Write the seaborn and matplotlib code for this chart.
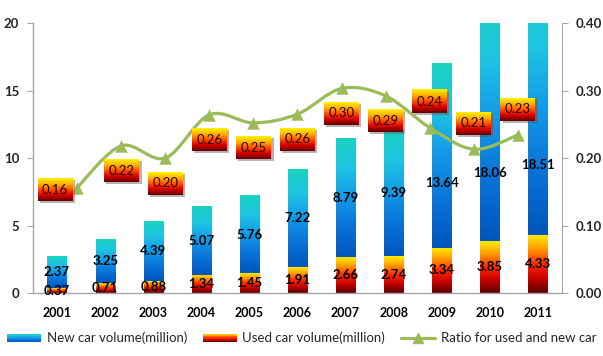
import numpy as np
import pandas as pd
import matplotlib
matplotlib.use("Agg")
import matplotlib.pyplot as plt
import seaborn as sns
from matplotlib.colors import LinearSegmentedColormap
from matplotlib.path import Path
from matplotlib.patches import PathPatch, Rectangle
from matplotlib.lines import Line2D
from matplotlib.offsetbox import OffsetImage, AnnotationBbox
from matplotlib.legend_handler import HandlerBase

# ---------------- data ----------------
years = ['2001', '2002', '2003', '2004', '2005', '2006', '2007', '2008', '2009', '2010', '2011']
new_volume = [2.37, 3.25, 4.39, 5.07, 5.76, 7.22, 8.79, 9.39, 13.64, 18.06, 18.51]
used_volume = [0.37, 0.71, 0.88, 1.34, 1.45, 1.91, 2.66, 2.74, 3.34, 3.85, 4.33]
ratio = [0.156, 0.218, 0.200, 0.264, 0.252, 0.265, 0.303, 0.292, 0.245, 0.213, 0.234]
ratio_labels = ['0.16', '0.22', '0.20', '0.26', '0.25', '0.26', '0.30', '0.29', '0.24', '0.21', '0.23']
left_ticks = [0, 5, 10, 15, 20]
left_tick_labels = ['0', '5', '10', '15', '20']
right_ticks = [0.0, 0.1, 0.2, 0.3, 0.4]
right_tick_labels = ['0.00', '0.10', '0.20', '0.30', '0.40']
legend_labels = ['New car volume(million)', 'Used car volume(million)', 'Ratio for used and new car']

# ---------------- layout / style ----------------
label_pos = ['left', 'below', 'below', 'below', 'below', 'below', 'below', 'below', 'above', 'above', 'above']
pos_offset_px = {'left': (-22, -2), 'below': (0, -25), 'above': (0, 26)}
new_label_nudge_px = [0, 0, 0, 0, 0, 0, 0, 0, -27, -41, -36]

GREEN = '#9bbb59'
GRAY = '#a6a6a6'
new_cmap = LinearSegmentedColormap.from_list(
    'newc', ['#0055bb', '#0a72d6', '#1498e6', '#1ec4e2', '#1ad2c0'])
used_cmap = LinearSegmentedColormap.from_list(
    'usedc', ['#5a0000', '#c80000', '#ff2a00', '#ff9a00', '#ffee00'])
box_cmap = LinearSegmentedColormap.from_list(
    'boxc', ['#6a0000', '#d80000', '#ff5000', '#ffb000', '#ffee00'])

sns.set_style('white')
plt.rcParams['font.family'] = ['Lato', 'DejaVu Sans']

DPI = 100
fig = plt.figure(figsize=(6.03, 3.56), dpi=DPI)
ax = fig.add_axes([33 / 603, 63 / 356, 529 / 603, 270 / 356])

df = pd.DataFrame({'year': years, 'new': new_volume, 'used': used_volume})

sns.barplot(data=df, x='year', y='used', ax=ax, width=0.4, color='#ff0000',
            saturation=1, errorbar=None, zorder=2)
sns.barplot(data=df, x='year', y='new', bottom=df['used'].to_numpy(), ax=ax, width=0.4,
            color='#1090e0', saturation=1, errorbar=None, zorder=2)

grad = np.linspace(0, 1, 256).reshape(-1, 1)
for cont, cmap in zip(ax.containers[:2], [used_cmap, new_cmap]):
    for rect in cont:
        x0, y0 = rect.get_x(), rect.get_y()
        w, h = rect.get_width(), rect.get_height()
        rect.set_facecolor('none')
        rect.set_edgecolor('none')
        ax.imshow(grad, cmap=cmap, extent=[x0, x0 + w, y0, y0 + h], origin='lower',
                  aspect='auto', interpolation='bicubic', zorder=2)

ax.set_xlim(-0.5, len(years) - 0.5)
ax.set_ylim(0, 20)

# value labels
for i, (n, u) in enumerate(zip(new_volume, used_volume)):
    ax.annotate(f'{u:.2f}', (i, u / 2), ha='center', va='center', fontsize=9.5,
                fontweight='bold', color='black', zorder=4)
    top = min(u + n, 20)
    ax.annotate(f'{n:.2f}', (i, (u + top) / 2), xytext=(0, new_label_nudge_px[i] * 72 / DPI),
                textcoords='offset points', ha='center', va='center', fontsize=9.5,
                fontweight='bold', color='black', zorder=4)

ax.set_xlabel('')
ax.set_ylabel('')
ax.set_yticks(left_ticks)
ax.set_yticklabels(left_tick_labels)
ax.set_xticks(range(len(years)))
ax.set_xticklabels(years)
ax.set_xticks(np.arange(-0.5, len(years), 1), minor=True)
ax.tick_params(axis='x', which='major', length=0, pad=10, labelsize=9, labelcolor='black')
ax.tick_params(axis='x', which='minor', length=4, color=GRAY, direction='out')
ax.tick_params(axis='y', length=4, color=GRAY, direction='out', labelsize=9.5, pad=6)
for lbl in ax.get_xticklabels() + ax.get_yticklabels():
    lbl.set_fontweight('bold')
for s in ['top', 'right']:
    ax.spines[s].set_visible(False)
for s in ['left', 'bottom']:
    ax.spines[s].set_color(GRAY)
    ax.spines[s].set_linewidth(1)

# right axis
ax2 = ax.twinx()
ax2.set_ylim(0, 0.4)
ax2.set_yticks(right_ticks)
ax2.set_yticklabels(right_tick_labels)
ax2.tick_params(axis='y', length=4, color=GRAY, direction='out', labelsize=9.5, pad=6)
for lbl in ax2.get_yticklabels():
    lbl.set_fontweight('bold')
for s in ['top', 'left', 'bottom']:
    ax2.spines[s].set_visible(False)
ax2.spines['right'].set_color(GRAY)

# line axis (separate x scale, like the original)
ax3 = ax2.twiny()
ax3.set_xlim(-1, len(years))
ax3.xaxis.set_visible(False)
for s in ax3.spines.values():
    s.set_visible(False)

idx = np.arange(len(years))
pts = np.column_stack([idx, ratio]).astype(float)
t = 1 / 6
verts = [tuple(pts[0])]
codes = [Path.MOVETO]
for i in range(len(pts) - 1):
    p_prev = pts[i - 1] if i > 0 else pts[i]
    p_next2 = pts[i + 2] if i + 2 < len(pts) else pts[i + 1]
    c1 = pts[i] + (pts[i + 1] - p_prev) * t
    c2 = pts[i + 1] - (p_next2 - pts[i]) * t
    verts += [tuple(c1), tuple(c2), tuple(pts[i + 1])]
    codes += [Path.CURVE4] * 3
ax3.add_patch(PathPatch(Path(verts, codes), facecolor='none', edgecolor=GREEN,
                        linewidth=2.3, zorder=3, capstyle='round'))
sns.scatterplot(x=idx, y=ratio, ax=ax3, marker='^', s=80, color=GREEN,
                edgecolor=GREEN, linewidth=0, zorder=4, legend=False)
ax3.set_xlabel('')
ax3.set_ylabel('')
ax3.set_ylim(0, 0.4)
ax3.set_xlim(-1, len(years))

# ratio label boxes
BW, BH = 35, 23
box_arr = np.repeat(box_cmap(np.linspace(1, 0, BH))[:, None, :], BW, axis=1)
shadow_arr = np.zeros((BH, BW, 4))
shadow_arr[..., :3] = 0.35
shadow_arr[..., 3] = 0.45
for i, (r, lab, pos) in enumerate(zip(ratio, ratio_labels, label_pos)):
    dx, dy = pos_offset_px[pos]
    dxp, dyp = dx * 72 / DPI, dy * 72 / DPI
    sh = AnnotationBbox(OffsetImage(shadow_arr, zoom=1, dpi_cor=False), (i, r),
                        xybox=(dxp + 1.5, dyp - 1.5), xycoords='data', boxcoords='offset points',
                        frameon=False, pad=0, box_alignment=(0.5, 0.5), zorder=5)
    ax3.add_artist(sh)
    ab = AnnotationBbox(OffsetImage(box_arr, zoom=1, dpi_cor=False), (i, r),
                        xybox=(dxp, dyp), xycoords='data', boxcoords='offset points',
                        frameon=False, pad=0, box_alignment=(0.5, 0.5), zorder=6)
    ax3.add_artist(ab)
    ax3.annotate(lab, (i, r), xytext=(dxp, dyp), textcoords='offset points',
                 ha='center', va='center', fontsize=9.5, color='#2a0000', zorder=7)

# legend
class GradientHandler(HandlerBase):
    def __init__(self, cmap):
        super().__init__()
        self.cmap = cmap

    def create_artists(self, legend, orig_handle, xdescent, ydescent, width, height, fontsize, trans):
        n = 12
        arts = []
        for k in range(n):
            arts.append(Rectangle((-xdescent, -ydescent + height * k / n), width, height / n * 1.05,
                                  facecolor=self.cmap((k + 0.5) / n), edgecolor='none',
                                  transform=trans))
        return arts

h_new = Rectangle((0, 0), 1, 1)
h_used = Rectangle((0, 0), 1, 1)
h_line = Line2D([0], [0], color=GREEN, linewidth=2.3, marker='^', markersize=7)
fig.legend([h_new, h_used, h_line], legend_labels, loc='center', bbox_to_anchor=(0.5, 0.05),
           ncol=3, frameon=False, fontsize=9.5, handlelength=2.6, handleheight=0.6,
           handletextpad=0.4, columnspacing=1.2,
           handler_map={h_new: GradientHandler(new_cmap), h_used: GradientHandler(used_cmap)})

fig.savefig('out.png', dpi=DPI)
